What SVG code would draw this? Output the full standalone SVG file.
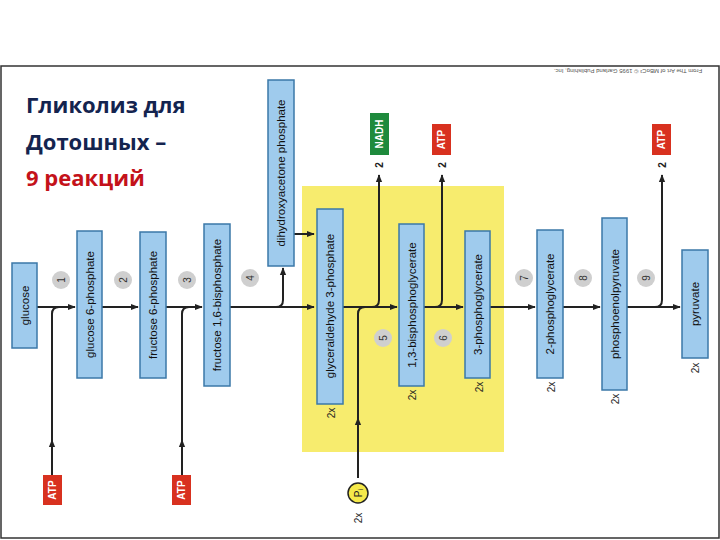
<svg xmlns="http://www.w3.org/2000/svg" width="720" height="540" viewBox="0 0 720 540">
<style>
.b{fill:#9fcbed;stroke:#3b78a8;stroke-width:1.5}
.t{font-family:"Liberation Sans",Arial,sans-serif;font-size:11.5px;fill:#111;text-anchor:middle;dominant-baseline:central}
.c{fill:#cfcfcf}
.n{font-family:"Liberation Sans",Arial,sans-serif;font-size:10px;fill:#333;text-anchor:middle;dominant-baseline:central}
.l{fill:none;stroke:#222;stroke-width:2}
.w{font-family:"Liberation Sans",Arial,sans-serif;font-size:10px;font-weight:bold;fill:#fff;text-anchor:middle;dominant-baseline:central}
.k{font-family:"Liberation Sans",Arial,sans-serif;font-size:10px;fill:#222;text-anchor:middle;dominant-baseline:central}
.h{font-family:"Open Sans","DejaVu Sans",sans-serif;font-size:22px;font-weight:bold}
</style>
<defs><marker id="a" viewBox="0 0 10 10" refX="9" refY="5" markerWidth="4" markerHeight="4" orient="auto"><path d="M0,1 L10,5 L0,9z" fill="#222"/></marker></defs>
<rect x="0" y="0" width="720" height="540" fill="#fff"/>
<rect x="1" y="66" width="718" height="472" fill="#fff" stroke="#333" stroke-width="1.5"/>
<text x="26" y="113" class="h" fill="#14244f">Гликолиз для</text>
<text x="26" y="150" class="h" fill="#14244f">Дотошных –</text>
<text x="26" y="186" class="h" fill="#c4121a">9 реакций</text>
<text transform="translate(628,71) rotate(180)" font-family="Liberation Sans,sans-serif" font-size="6" fill="#555" text-anchor="middle" dominant-baseline="central">From The Art of MBoC³ © 1995 Garland Publishing, Inc.</text>
<rect x="302" y="186" width="202" height="266" fill="#f7ec6e"/>
<g id="connectors">
<path class="l" d="M37,307 H75" marker-end="url(#a)"/>
<path class="l" d="M52,475 V314 Q52,307 59,307" />
<path class="l" d="M52,480 V440" marker-end="url(#a)"/>
<path class="l" d="M102,307 H138" marker-end="url(#a)"/>
<path class="l" d="M166,307 H202" marker-end="url(#a)"/>
<path class="l" d="M182,475 V314 Q182,307 189,307"/>
<path class="l" d="M182,480 V440" marker-end="url(#a)"/>
<path class="l" d="M230,307 H314" marker-end="url(#a)"/>
<path class="l" d="M276,307 Q283,307 283,300 V268" marker-end="url(#a)"/>
<path class="l" d="M294,234 H314" marker-end="url(#a)"/>
<path class="l" d="M343,307 H397" marker-end="url(#a)"/>
<path class="l" d="M372,307 Q379,307 379,300 V175" marker-end="url(#a)"/>
<path class="l" d="M358,478 V314 Q358,307 365,307"/>
<path class="l" d="M358,478 V418" marker-end="url(#a)"/>
<path class="l" d="M424,307 H463" marker-end="url(#a)"/>
<path class="l" d="M435,307 Q442,307 442,300 V175" marker-end="url(#a)"/>
<path class="l" d="M490,307 H535" marker-end="url(#a)"/>
<path class="l" d="M563,307 H600" marker-end="url(#a)"/>
<path class="l" d="M627,307 H680" marker-end="url(#a)"/>
<path class="l" d="M655,307 Q662,307 662,300 V175" marker-end="url(#a)"/>
</g>
<g id="glucose"><rect class="b" x="12" y="263" width="25" height="85"/><text class="t" transform="translate(24.5,305.5) rotate(-90)">glucose</text></g>
<g id="g6p"><rect class="b" x="77" y="231" width="25" height="147"/><text class="t" transform="translate(89.5,304.5) rotate(-90)">glucose 6-phosphate</text></g>
<g id="f6p"><rect class="b" x="140" y="232" width="26" height="146"/><text class="t" transform="translate(153,305) rotate(-90)">fructose 6-phosphate</text></g>
<g id="f16bp"><rect class="b" x="204" y="224" width="26" height="162"/><text class="t" transform="translate(217,305) rotate(-90)">fructose 1,6-bisphosphate</text></g>
<g id="dhap"><rect class="b" x="268" y="80" width="26" height="186"/><text class="t" transform="translate(281,173) rotate(-90)">dihydroxyacetone phosphate</text></g>
<g id="g3p"><rect class="b" x="317" y="209" width="26" height="195"/><text class="t" transform="translate(330,306) rotate(-90)">glyceraldehyde 3-phosphate</text><text class="k" transform="translate(331,413) rotate(-90)">2x</text></g>
<g id="bpg"><rect class="b" x="399" y="224" width="25" height="162"/><text class="t" transform="translate(411.5,305) rotate(-90)">1,3-bisphosphoglycerate</text><text class="k" transform="translate(412,395) rotate(-90)">2x</text></g>
<g id="pg3"><rect class="b" x="465" y="231" width="25" height="147"/><text class="t" transform="translate(477.5,304.5) rotate(-90)">3-phosphoglycerate</text><text class="k" transform="translate(479,387) rotate(-90)">2x</text></g>
<g id="pg2"><rect class="b" x="537" y="230" width="26" height="148"/><text class="t" transform="translate(550,304) rotate(-90)">2-phosphoglycerate</text><text class="k" transform="translate(551,387) rotate(-90)">2x</text></g>
<g id="pep"><rect class="b" x="602" y="218" width="25" height="172"/><text class="t" transform="translate(614.5,304) rotate(-90)">phosphoenolpyruvate</text><text class="k" transform="translate(615,399) rotate(-90)">2x</text></g>
<g id="pyr"><rect class="b" x="682" y="250" width="26" height="108"/><text class="t" transform="translate(695,304) rotate(-90)">pyruvate</text><text class="k" transform="translate(695,368) rotate(-90)">2x</text></g>
<g id="steps">
<circle class="c" cx="61" cy="280" r="9"/><text class="n" transform="translate(61,280) rotate(-90)">1</text>
<circle class="c" cx="123" cy="280" r="9"/><text class="n" transform="translate(123,280) rotate(-90)">2</text>
<circle class="c" cx="187" cy="280" r="9"/><text class="n" transform="translate(187,280) rotate(-90)">3</text>
<circle class="c" cx="250" cy="278" r="9"/><text class="n" transform="translate(250,278) rotate(-90)">4</text>
<circle class="c" cx="383" cy="338" r="9"/><text class="n" transform="translate(383,338) rotate(-90)">5</text>
<circle class="c" cx="443" cy="338" r="9"/><text class="n" transform="translate(443,338) rotate(-90)">6</text>
<circle class="c" cx="524" cy="278" r="9"/><text class="n" transform="translate(524,278) rotate(-90)">7</text>
<circle class="c" cx="583" cy="278" r="9"/><text class="n" transform="translate(583,278) rotate(-90)">8</text>
<circle class="c" cx="646" cy="278" r="9"/><text class="n" transform="translate(646,278) rotate(-90)">9</text>
</g>
<g id="atp1"><rect x="43" y="475" width="19" height="30" fill="#d8311f"/><text class="w" transform="translate(52.5,490) rotate(-90)">ATP</text></g>
<g id="atp2"><rect x="172" y="475" width="19" height="30" fill="#d8311f"/><text class="w" transform="translate(181.5,490) rotate(-90)">ATP</text></g>
<g id="nadh"><rect x="370" y="113" width="19" height="42" fill="#1e8a3c"/><text class="w" transform="translate(379.5,134) rotate(-90)">NADH</text><text class="k" font-weight="bold" transform="translate(379,165) rotate(-90)">2</text></g>
<g id="atp3"><rect x="432" y="124" width="19" height="31" fill="#d8311f"/><text class="w" transform="translate(441.5,139.5) rotate(-90)">ATP</text><text class="k" font-weight="bold" transform="translate(442,165) rotate(-90)">2</text></g>
<g id="atp4"><rect x="652" y="124" width="19" height="31" fill="#d8311f"/><text class="w" transform="translate(661.5,139.5) rotate(-90)">ATP</text><text class="k" font-weight="bold" transform="translate(662,165) rotate(-90)">2</text></g>
<g id="pi"><circle cx="358" cy="493" r="10" fill="#f5e94a" stroke="#222" stroke-width="1.5"/><text class="k" font-size="11" transform="translate(358,493) rotate(-90)">Pᵢ</text><text class="k" transform="translate(358,518) rotate(-90)">2x</text></g>
</svg>
